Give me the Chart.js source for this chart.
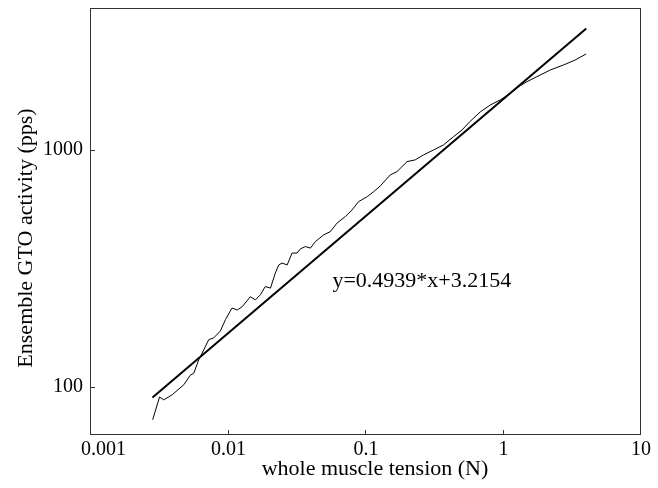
<!DOCTYPE html>
<html>
<head>
<meta charset="utf-8">
<script src="https://cdn.jsdelivr.net/npm/chart.js@4.4.1/dist/chart.umd.min.js"></script>
<style>
  html, body { margin: 0; padding: 0; background: #fff; }
  #gtoChart { display: block; }
</style>
</head>
<body>
<canvas id="gtoChart" width="658" height="488"></canvas>
<script>
// whole muscle tension (N) vs ensemble GTO activity (pps)
const tensionN = [
    0.00281, 0.00315, 0.00338, 0.00389, 0.00473, 0.00528, 0.00559, 0.00607, 0.00660, 0.00718,
    0.00781, 0.00873, 0.00950, 0.0106, 0.0116, 0.0126, 0.0144, 0.0157, 0.0171, 0.0185,
    0.0202, 0.0219, 0.0232, 0.0245, 0.0267, 0.0290, 0.0315, 0.0333, 0.0362, 0.0394,
    0.0428, 0.0492, 0.0550, 0.0615, 0.0707, 0.0791, 0.0883, 0.102, 0.114, 0.127,
    0.150, 0.168, 0.199, 0.228, 0.262, 0.310, 0.366, 0.433, 0.499, 0.566,
    0.677, 0.800, 0.946, 1.12, 1.29, 1.48, 1.75, 2.19, 2.73, 3.32,
    3.99
];
const gtoPps = [
    72.6, 90.5, 88.1, 92.5, 102, 112, 114, 130, 143, 158,
    161, 172, 192, 215, 211, 218, 240, 233, 245, 265,
    261, 302, 327, 333, 327, 367, 367, 382, 391, 385,
    410, 438, 452, 491, 523, 558, 605, 635, 667, 705,
    784, 810, 893, 908, 953, 1000, 1050, 1138, 1214, 1313,
    1447, 1548, 1625, 1735, 1850, 1942, 2039, 2176, 2284, 2398,
    2542
];

// log-log regression: log10(y) = slope * log10(x) + intercept
const fitSlope = 0.4939;
const fitIntercept = 3.2154;
const fitRange = [0.0028, 4.0];

const xTicks = [0.001, 0.01, 0.1, 1, 10];
const xTickLabels = ['0.001', '0.01', '0.1', '1', '10'];
const yTicks = [100, 1000];
const yTickLabels = ['100', '1000'];

const fitLabel = 'y=' + fitSlope + '*x+' + fitIntercept;

const SERIF = '"Liberation Serif", "Times New Roman", serif';

const curvePoints = tensionN.map((x, i) => ({ x, y: gtoPps[i] }));
const fitPoints = fitRange.map(x => ({ x, y: Math.pow(10, fitSlope * Math.log10(x) + fitIntercept) }));

// box around the plot, inward tick marks, axis titles and the fit equation
const framePlugin = {
    id: 'frame',
    afterDraw(chart) {
        const { ctx, chartArea: a, scales: { x, y } } = chart;
        ctx.save();
        ctx.strokeStyle = '#333';
        ctx.lineWidth = 1;
        ctx.strokeRect(a.left - 0.5, a.top + 0.5, a.right - a.left, a.bottom - a.top);

        ctx.beginPath();
        x.ticks.forEach(t => {
            const px = Math.round(x.getPixelForValue(t.value)) - 0.5;
            ctx.moveTo(px, a.bottom);
            ctx.lineTo(px, a.bottom - 4);
        });
        y.ticks.forEach(t => {
            const py = Math.round(y.getPixelForValue(t.value)) + 0.5;
            ctx.moveTo(a.left, py);
            ctx.lineTo(a.left + 4, py);
        });
        ctx.stroke();

        ctx.fillStyle = '#000';
        ctx.font = '22px ' + SERIF;
        ctx.textBaseline = 'alphabetic';

        ctx.textAlign = 'left';
        ctx.fillText(fitLabel, x.getPixelForValue(0.057), y.getPixelForValue(264));

        ctx.textAlign = 'center';
        ctx.fillText('whole muscle tension (N)', (a.left + a.right) / 2 + 9, 475);

        ctx.translate(32, (a.top + a.bottom) / 2 + 17);
        ctx.rotate(-Math.PI / 2);
        ctx.fillText('Ensemble GTO activity (pps)', 0, 0);
        ctx.restore();
    }
};

new Chart(document.getElementById('gtoChart').getContext('2d'), {
    type: 'line',
    data: {
        datasets: [
            {
                label: 'GTO activity',
                data: curvePoints,
                borderColor: '#000',
                borderWidth: 1,
                pointRadius: 0,
                tension: 0
            },
            {
                label: 'fit',
                data: fitPoints,
                borderColor: '#000',
                borderWidth: 2,
                pointRadius: 0,
                tension: 0
            }
        ]
    },
    options: {
        responsive: false,
        animation: false,
        layout: { padding: { top: 8, right: 17, left: 0, bottom: 0 } },
        plugins: {
            legend: { display: false },
            tooltip: { enabled: false }
        },
        scales: {
            x: {
                type: 'logarithmic',
                min: 0.001,
                max: 10,
                afterBuildTicks: s => { s.ticks = xTicks.map(v => ({ value: v })); },
                afterFit: s => {
                    s.height = 54;
                    s.paddingLeft = 0;
                    s.paddingRight = 0;
                },
                grid: { display: false, drawTicks: false },
                border: { display: false },
                ticks: {
                    autoSkip: false,
                    maxRotation: 0,
                    padding: 4,
                    color: '#000',
                    font: { family: SERIF, size: 20 },
                    // first label sits a little right of the corner
                    callback: (v, i) => (i === 0 ? '     ' : '') + xTickLabels[i]
                }
            },
            y: {
                type: 'logarithmic',
                min: 63.2,
                max: 3975,
                afterBuildTicks: s => { s.ticks = yTicks.map(v => ({ value: v })); },
                afterFit: s => {
                    s.width = 91;
                    s.paddingTop = 0;
                    s.paddingBottom = 0;
                },
                grid: { display: false, drawTicks: false },
                border: { display: false },
                ticks: {
                    autoSkip: false,
                    padding: 8,
                    color: '#000',
                    font: { family: SERIF, size: 20 },
                    callback: (v, i) => yTickLabels[i]
                }
            }
        }
    },
    plugins: [framePlugin]
});
</script>
</body>
</html>
